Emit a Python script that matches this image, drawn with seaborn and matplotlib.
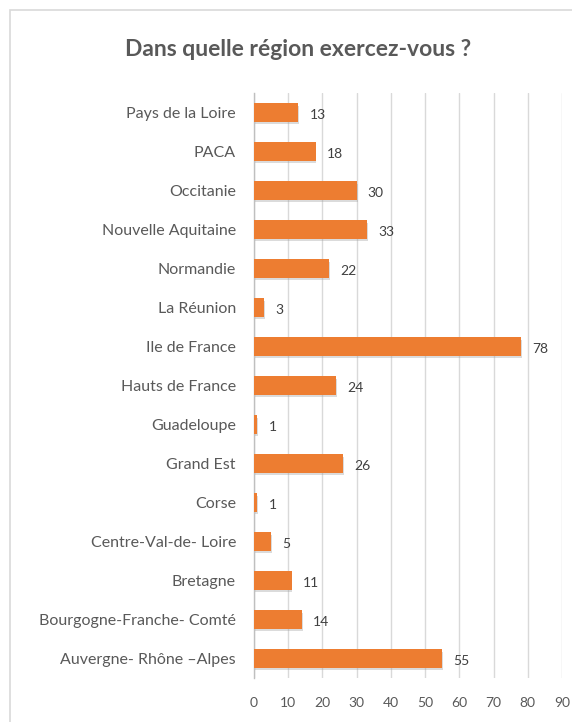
import matplotlib
matplotlib.use("Agg")
import matplotlib.pyplot as plt
import matplotlib.patheffects as pe
from matplotlib.patches import Rectangle
import seaborn as sns
import pandas as pd

regions = ["Pays de la Loire", "PACA", "Occitanie", "Nouvelle Aquitaine", "Normandie",
           "La Réunion", "Ile de France", "Hauts de France", "Guadeloupe", "Grand Est",
           "Corse", "Centre-Val-de- Loire", "Bretagne", "Bourgogne-Franche- Comté",
           "Auvergne- Rhône –Alpes"]
counts = [13, 18, 30, 33, 22, 3, 78, 24, 1, 26, 1, 5, 11, 14, 55]
xticks = [0, 10, 20, 30, 40, 50, 60, 70, 80, 90]
title = "Dans quelle région exercez-vous ?"

df = pd.DataFrame({"region": regions, "count": counts})

sns.set_theme(style="white")
plt.rcParams["font.family"] = ["Lato", "DejaVu Sans"]
txt = "#595959"

fig = plt.figure(figsize=(5.72, 7.22), dpi=100)
fig.patches.append(Rectangle((10/572, -0.1), 1.2, 1 - 10/722 + 0.1, transform=fig.transFigure,
                             fill=False, edgecolor="#d9d9d9", linewidth=1.2, zorder=0))
ax = fig.add_axes([254/572, 1 - 678/722, (562-254)/572, (678-93)/722])

sns.barplot(data=df, x="count", y="region", order=regions, color="#ED7D31",
            saturation=1, width=0.47, ax=ax, zorder=3)
for p in ax.patches:
    p.set_path_effects([pe.SimplePatchShadow(offset=(0.6, -1.8), shadow_rgbFace="#9a9a9a", alpha=0.35),
                        pe.Normal()])
    p.set_edgecolor("none")

for i, v in enumerate(counts):
    ax.annotate(str(v), xy=(v, i), xytext=(8, -2), textcoords="offset points",
                va="center", ha="left", fontsize=10, color="#404040")

ax.set_xlim(0, 90)
ax.set_ylim(14.5, -0.5)
ax.set_xticks(xticks)
ax.set_xticklabels([str(t) for t in xticks])
ax.grid(axis="x", color="#d9d9d9", linewidth=1, zorder=0)
ax.set_axisbelow(True)
for s in ["top", "right", "bottom"]:
    ax.spines[s].set_visible(False)
ax.spines["left"].set_color("#bfbfbf")
ax.spines["left"].set_linewidth(1)
ax.tick_params(axis="y", length=0, pad=13, labelsize=11.5, labelcolor=txt)
ax.tick_params(axis="x", length=0, pad=14, labelsize=10, labelcolor=txt)
ax.set_xlabel("")
ax.set_ylabel("")

fig.text(298/572, 1 - 50/722, title, ha="center", va="center", fontsize=16.5,
         fontweight="bold", color=txt)

fig.savefig("out.png", dpi=100)
